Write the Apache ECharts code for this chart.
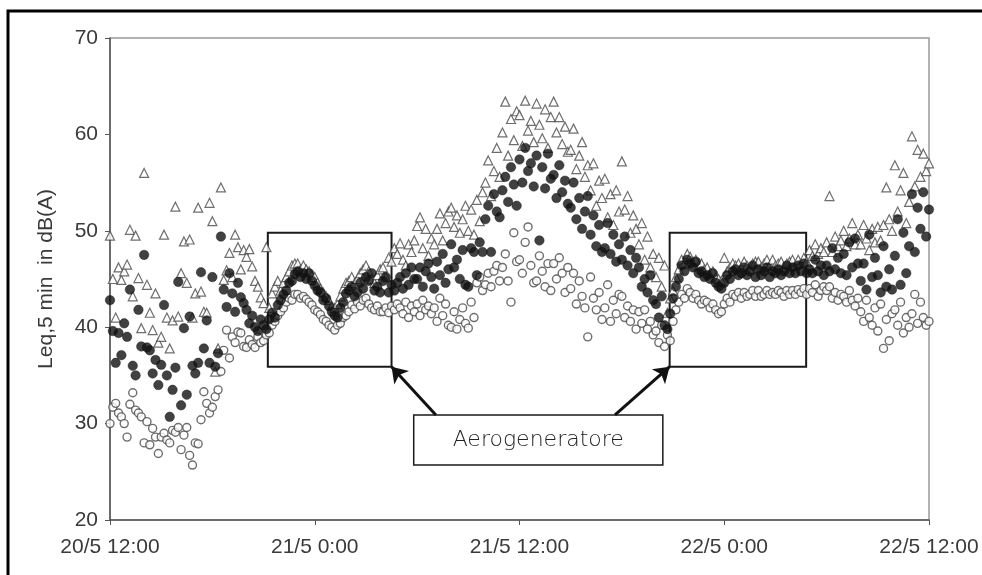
<!DOCTYPE html>
<html>
<head>
<meta charset="utf-8">
<script src="https://cdn.jsdelivr.net/npm/echarts@6/dist/echarts.min.js"></script>
<style>
  html, body { margin: 0; padding: 0; background: #fff; }
  #chart { width: 982px; height: 575px; }
</style>
</head>
<body>
<div id="chart"></div>
<script>
// Leq over 5 minutes, one reading kept every 10 minutes from 20/5 12:00 to 22/5 12:00
// (one row per hour, six readings per row)
const STEP_HOURS = 1 / 6;
const timeTicks = ['20/5 12:00', '21/5 0:00', '21/5 12:00', '22/5 0:00', '22/5 12:00'];
const yTicks = [20, 30, 40, 50, 60, 70];

// upper level (open triangles)
const upperLevel = [
  49.5, 45.0, 41.0, 46.2, 44.9, 45.8,
  46.5, 50.1, 43.2, 49.5, 45.1, 39.9,
  56.0, 44.4, 41.5, 39.7, 43.5, 38.4,
  39.0, 49.6, 41.0, 37.8, 40.7, 52.5,
  41.1, 45.6, 48.9, 44.6, 49.1, 41.0,
  43.5, 52.4, 43.7, 41.6, 41.5, 52.9,
  51.0, 35.4, 37.8, 54.5, 44.9, 45.9,
  47.7, 45.2, 49.6, 48.3, 46.0, 48.0,
  47.3, 48.1, 46.3, 44.8, 44.2, 43.1,
  42.5, 48.3, 42.0, 43.5, 44.2, 44.8,
  43.8, 44.6, 45.2, 45.8, 46.4, 46.6,
  46.6, 46.0, 46.4, 46.0, 45.8, 45.4,
  45.2, 44.6, 44.0, 43.6, 43.2, 42.8,
  42.2, 42.0, 42.4, 43.2, 44.0, 44.6,
  44.8, 45.2, 44.6, 45.0, 45.6, 46.0,
  46.4, 45.8, 45.0, 44.6, 45.4, 46.0,
  46.2, 45.2, 47.2, 46.8, 48.2, 47.6,
  48.7, 47.0, 46.4, 48.6, 47.8, 49.0,
  50.5, 51.4, 48.2, 50.2, 47.4, 49.2,
  48.6, 50.2, 51.8, 49.0, 50.8, 52.0,
  52.4, 50.4, 51.6, 49.8, 51.2, 52.6,
  50.0, 52.2, 49.6, 53.2, 51.0, 54.0,
  55.0, 57.3, 53.6, 56.2, 58.6, 55.6,
  60.2, 63.4, 57.8, 61.6, 59.4, 62.4,
  62.0, 58.8, 63.5, 60.4, 61.4, 59.2,
  63.2, 61.0, 59.6, 62.6, 58.6, 61.8,
  63.4, 60.2, 61.8, 59.0, 60.8, 58.2,
  58.4, 60.6, 56.4, 57.8, 59.2, 55.6,
  56.8, 54.2, 57.0, 52.6, 55.2, 53.4,
  55.4, 51.4, 53.8, 50.6, 54.2, 52.0,
  57.2, 52.2, 53.6, 49.8, 51.6, 50.2,
  48.6, 50.8, 47.0, 49.4, 46.2, 47.6,
  45.2, 47.2, 44.2, 46.4, 41.5, 43.0,
  43.8, 45.2, 46.0, 47.0, 46.6, 47.6,
  47.3, 46.8, 47.0, 46.4, 46.6, 46.0,
  46.2, 45.6, 45.8, 45.2, 45.0, 44.8,
  47.2, 45.8, 46.2, 46.6, 46.4, 46.6,
  46.2, 46.8, 46.4, 46.0, 46.6, 46.8,
  46.8, 46.2, 46.6, 47.0, 46.4, 47.0,
  46.4, 46.6, 46.8, 46.2, 46.6, 46.8,
  47.0, 46.4, 47.0, 46.6, 47.2, 46.8,
  48.0, 47.4, 48.6, 47.6, 48.2, 47.8,
  48.8, 53.6, 47.8, 49.4, 48.4, 49.0,
  50.0, 48.4, 49.2, 50.8, 48.6, 49.6,
  48.6, 50.6, 49.2, 48.0, 50.2, 48.8,
  50.4, 49.0, 50.6, 54.5, 51.2, 50.0,
  56.8, 52.0, 54.2, 56.0, 50.8, 53.0,
  59.8, 54.6, 58.4, 55.6, 58.0, 56.2,
  57.0
];

// equivalent level (filled circles)
const equivalentLevel = [
  42.8, 39.6, 36.3, 39.4, 37.1, 40.4,
  39.0, 43.9, 36.0, 35.0, 41.8, 38.0,
  47.5, 37.9, 37.6, 35.2, 36.6, 34.0,
  36.1, 42.3, 35.0, 30.7, 33.5, 35.8,
  44.7, 31.9, 39.9, 33.0, 41.1, 36.0,
  35.2, 36.3, 45.7, 37.8, 40.7, 36.3,
  45.2, 35.9, 37.3, 49.4, 43.9, 42.1,
  45.6, 43.5, 41.6, 44.6, 43.1, 42.5,
  41.8, 40.4, 41.2, 40.0, 39.6, 40.8,
  40.2, 39.8, 40.8, 41.5, 41.0, 42.3,
  42.8, 43.4, 43.8, 44.6, 44.8, 45.5,
  45.8, 45.2, 45.6, 45.0, 45.6, 44.8,
  44.3, 43.8, 43.6, 42.8, 43.0, 42.2,
  41.6, 41.2, 41.0, 42.0, 42.6, 43.5,
  43.8, 44.2, 43.2, 43.6, 44.6, 44.0,
  45.2, 44.8, 45.6, 43.8, 44.2, 43.6,
  44.8, 45.2, 43.6, 44.4, 43.8, 44.6,
  45.2, 44.0, 45.6, 44.4, 46.2, 45.0,
  45.0, 46.2, 44.2, 45.8, 46.6, 45.2,
  44.0, 46.8, 45.4, 47.6, 44.6, 46.0,
  48.6, 46.2, 47.0, 45.0, 48.0, 44.4,
  44.2, 48.2, 47.8, 45.4, 48.8, 47.8,
  51.2, 52.6, 47.8, 53.8, 52.0, 51.4,
  54.2, 55.6, 53.0, 56.6, 54.8, 52.6,
  57.4, 55.0, 58.6, 56.2, 57.0, 54.6,
  57.8, 49.0, 56.6, 54.4, 58.0, 55.4,
  55.8, 53.4, 56.8, 54.0, 55.2, 52.8,
  52.4, 55.0, 51.2, 53.4, 50.2, 52.0,
  53.6, 49.6, 51.6, 48.4, 50.6, 47.8,
  48.2, 50.8, 47.6, 49.6, 46.8, 48.6,
  47.0, 49.4, 46.4, 48.0, 45.6, 47.2,
  46.2, 44.2, 45.0, 43.6, 45.4, 42.8,
  42.4, 41.0, 43.2, 40.2, 39.8, 41.4,
  43.0, 44.2, 45.0, 46.4, 45.8, 47.0,
  46.6, 46.2, 46.8, 45.6, 45.8, 45.2,
  45.4, 45.0, 45.6, 44.6, 44.2, 44.0,
  44.6, 45.4, 45.0, 45.8, 46.0, 45.4,
  45.6, 46.2, 45.4, 45.8, 46.4, 45.2,
  46.0, 45.4, 45.8, 46.2, 45.2, 45.8,
  45.6, 46.0, 45.4, 45.8, 46.4, 45.6,
  46.2, 45.6, 46.4, 45.8, 46.6, 45.6,
  46.0, 45.6, 47.0, 45.8, 46.4, 45.4,
  46.4, 45.8, 48.2, 46.0, 47.2, 45.6,
  47.6, 45.4, 48.8, 46.2, 49.2, 46.6,
  44.8, 46.6, 43.9, 49.6, 45.2, 47.2,
  45.4, 43.6, 48.4, 44.2, 46.0, 43.9,
  47.4, 51.2, 44.4, 49.8, 45.6, 48.4,
  53.8, 47.8, 52.4, 50.2, 54.0, 49.4,
  52.2
];

// background level (open circles)
const backgroundLevel = [
  30.0, 31.7, 32.1, 31.1, 30.7, 30.0,
  28.6, 32.0, 33.2, 31.4, 31.1, 30.7,
  28.0, 30.2, 27.8, 29.5, 28.6, 26.9,
  28.6, 29.0, 28.3, 28.0, 29.3, 29.1,
  29.6, 27.3, 28.8, 29.6, 26.7, 25.7,
  28.0, 27.9, 30.4, 33.3, 32.1, 31.1,
  31.7, 32.8, 33.5, 35.4, 37.6, 39.7,
  36.8, 39.0, 38.4, 39.5, 39.4, 38.0,
  37.9, 38.7, 38.2, 37.9, 39.0, 38.4,
  38.6, 39.2, 39.4, 40.2, 40.6, 41.2,
  41.6, 42.0, 42.6, 43.0, 42.8, 43.4,
  43.4, 43.0, 43.2, 42.9, 42.6, 42.3,
  41.8, 41.6, 41.3, 40.8, 40.6, 40.2,
  40.0, 39.7, 40.2, 40.4, 41.0, 41.2,
  41.6, 42.3, 41.9, 42.6, 42.2, 42.8,
  43.0, 42.4, 42.0, 41.8, 42.2, 41.6,
  41.6, 42.0, 41.5, 42.2, 41.8, 42.4,
  42.0, 41.4, 42.6, 41.0, 42.2, 41.6,
  42.4, 41.2, 42.8, 41.8, 42.2, 41.4,
  42.0, 40.6, 43.0, 41.2, 42.4, 40.2,
  40.0, 41.6, 39.8, 40.8, 42.0, 40.4,
  39.9, 42.6, 41.0, 44.6, 45.2, 43.8,
  44.4, 45.6, 44.2, 45.8, 46.4, 44.8,
  46.2, 47.6, 44.8, 42.6, 49.8, 46.8,
  47.0, 45.6, 48.8, 50.4, 46.4, 44.6,
  44.8, 47.4, 45.8, 44.2, 46.6, 43.8,
  46.6, 45.0, 47.2, 45.6, 43.6, 46.2,
  44.0, 45.6, 42.4, 44.8, 43.2, 42.0,
  39.0, 45.2, 43.0, 41.8, 43.6, 40.8,
  42.0, 44.4, 40.6, 42.8, 41.4, 43.4,
  43.2, 41.0, 42.2, 40.6, 41.8, 39.8,
  41.6, 40.4, 41.8, 39.8, 40.6, 39.2,
  39.6, 38.4, 40.2, 38.0, 39.2, 38.6,
  40.6, 41.8, 42.6, 43.4, 43.0, 44.0,
  43.6, 43.0, 43.4, 42.8, 42.4, 42.8,
  42.6, 42.0, 42.4, 41.8, 41.4, 41.6,
  42.4, 43.0, 42.6, 43.4, 43.2, 43.6,
  43.0, 43.6, 43.2, 43.4, 43.8, 43.2,
  43.8, 43.2, 43.4, 43.8, 43.4, 43.6,
  43.4, 43.8, 43.6, 43.2, 43.8, 43.4,
  43.8, 43.4, 43.9, 43.6, 44.0, 43.4,
  44.0, 43.6, 44.4, 43.2, 43.8, 44.2,
  43.8, 44.2, 43.0, 43.6, 42.8, 43.4,
  43.2, 42.6, 43.8, 42.8, 42.2, 43.0,
  41.6, 40.6, 42.8, 41.0, 40.2, 42.0,
  39.6, 42.4, 37.8, 40.8, 38.6, 41.4,
  41.8, 40.2, 42.6, 39.4, 41.0, 40.0,
  41.4, 43.4, 40.4, 42.6, 41.0, 40.2,
  40.6
];

// periods with the wind turbine running: [start h, top dB, end h, bottom dB]
const turbineBoxes = [
  [9.25, 49.8, 16.5, 35.9],
  [32.8, 49.8, 40.8, 35.9]
];
const noteBox = [17.8, 30.9, 32.4, 25.7];
const noteText = 'Aerogeneratore';
const noteArrows = [
  [[19.1, 30.9], [16.5, 35.9]],
  [[29.6, 30.9], [32.8, 35.9]]
];

const toPoints = values => values.map((v, i) => [i * STEP_HOURS, v]);

const chart = echarts.init(document.getElementById('chart'), null, { renderer: 'canvas' });

const axisFont = { fontFamily: 'Liberation Sans, Arial, sans-serif', fontSize: 21, color: '#3a3a3a' };

chart.setOption({
  animation: false,
  backgroundColor: '#fff',
  grid: { left: 110, right: 53, top: 38, bottom: 55, show: true, borderColor: '#9a9a9a', borderWidth: 1.5 },
  xAxis: {
    type: 'value', min: 0, max: 48, interval: 12,
    axisLine: { show: true, lineStyle: { color: '#555', width: 1.5 } },
    axisTick: { show: true, length: 5, lineStyle: { color: '#555' } },
    splitLine: { show: false },
    axisLabel: Object.assign({ margin: 17, formatter: v => timeTicks[Math.round(v / 12)] }, axisFont)
  },
  yAxis: {
    type: 'value', min: yTicks[0], max: yTicks[yTicks.length - 1], interval: 10,
    name: 'Leq,5 min  in dB(A)', nameLocation: 'middle', nameGap: 53, nameRotate: 90,
    nameTextStyle: { fontFamily: 'Liberation Sans, Arial, sans-serif', fontSize: 21, color: '#3a3a3a' },
    axisLine: { show: true, lineStyle: { color: '#555', width: 1.5 } },
    axisTick: { show: true, length: 5, lineStyle: { color: '#555' } },
    splitLine: { show: false },
    axisLabel: Object.assign({ margin: 12 }, axisFont)
  },
  series: [
    {
      name: 'upper', type: 'scatter', data: toPoints(upperLevel),
      symbol: 'triangle', symbolSize: 9,
      itemStyle: { color: '#fff', borderColor: '#4a4a4a', borderWidth: 1.2 }, z: 2
    },
    {
      name: 'background', type: 'scatter', data: toPoints(backgroundLevel),
      symbol: 'circle', symbolSize: 8,
      itemStyle: { color: '#fff', borderColor: '#4a4a4a', borderWidth: 1.4 }, z: 3
    },
    {
      name: 'equivalent', type: 'scatter', data: toPoints(equivalentLevel),
      symbol: 'circle', symbolSize: 9.5,
      itemStyle: { color: '#111', borderColor: '#111', borderWidth: 0.5 }, z: 4
    },
    {
      name: 'notes', type: 'scatter', data: [], z: 10,
      markArea: {
        silent: true,
        data: turbineBoxes.map(b => [
          { coord: [b[0], b[1]], itemStyle: { color: 'rgba(0,0,0,0)', borderColor: '#1a1a1a', borderWidth: 2 } },
          { coord: [b[2], b[3]] }
        ]).concat([[
          { coord: [noteBox[0], noteBox[1]], itemStyle: { color: '#fff', borderColor: '#1a1a1a', borderWidth: 1.5 },
            label: { show: true, position: 'inside', formatter: noteText,
                     fontFamily: "'DejaVu Sans ExtraLight', 'DejaVu Sans', sans-serif", fontWeight: 200,
                     fontSize: 22, color: '#222' } },
          { coord: [noteBox[2], noteBox[3]] }
        ]])
      },
      markLine: {
        silent: true,
        symbol: ['none', 'arrow'], symbolSize: 15,
        lineStyle: { color: '#111', width: 3, type: 'solid' },
        label: { show: false },
        data: noteArrows.map(a => [{ coord: a[0] }, { coord: a[1] }])
      }
    }
  ],
  graphic: [
    { type: 'rect', shape: { x: 8, y: 11, width: 1000, height: 600 },
      style: { fill: 'none', stroke: '#000', lineWidth: 3 }, z: 100 }
  ]
});
</script>
</body>
</html>
